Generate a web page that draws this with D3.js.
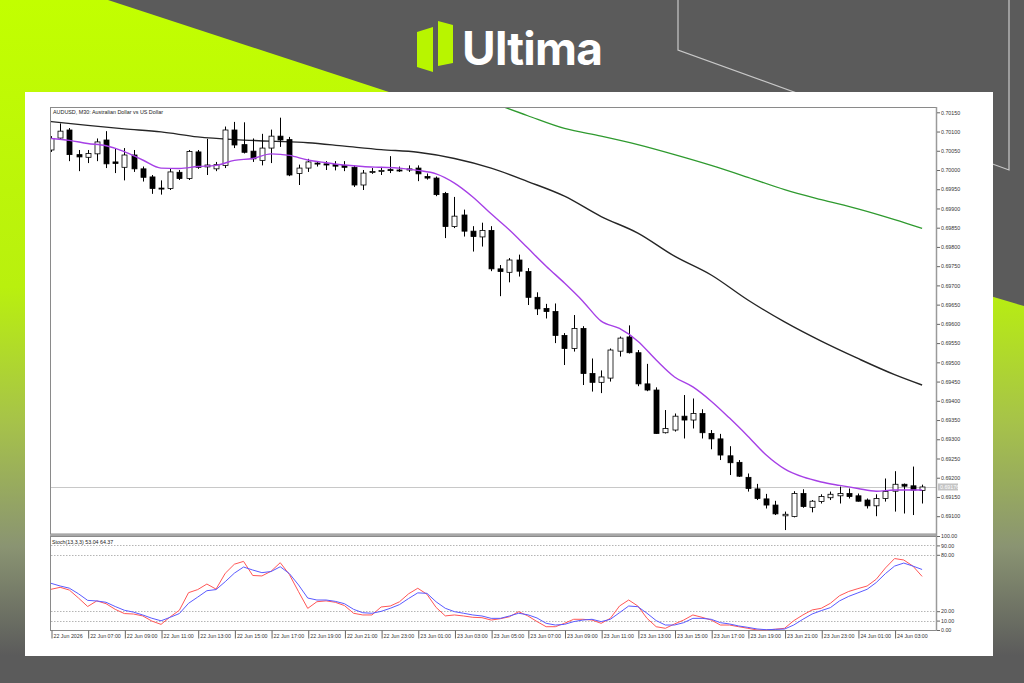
<!DOCTYPE html>
<html>
<head>
<meta charset="utf-8">
<title>AUDUSD M30</title>
<script src="https://cdnjs.cloudflare.com/ajax/libs/d3/7.8.5/d3.min.js"></script>
<style>
  body { margin: 0; background: #5b5b5b; }
  svg { display: block; }
  .axis path.domain { stroke: none; }
  .axis .tick line { stroke: #666; }
  .axis .tick text { fill: #333; font-family: "Liberation Sans", Arial, sans-serif; font-size: 5.3px; }
</style>
</head>
<body>
<svg width="1024" height="683"></svg>
<script>
// AUDUSD M30 bars, 22 Jun 05:00 -> 24 Jun 04:30
var open  = [0.70052,0.70083,0.70104,0.70040,0.70033,0.70042,0.70078,0.70021,0.70007,0.70039,
             0.70003,0.69982,0.69953,0.69952,0.69994,0.69978,0.70047,0.70008,0.70003,0.70012,
             0.70104,0.70066,0.70049,0.70025,0.70057,0.70088,0.70079,0.69991,0.70005,0.70018,
             0.70016,0.70014,0.70012,0.70007,0.69961,0.69994,0.69997,0.70001,0.70000,0.70000,
             0.70005,0.69983,0.69979,0.69939,0.69853,0.69883,0.69841,0.69826,0.69843,0.69743,
             0.69734,0.69766,0.69736,0.69669,0.69640,0.69632,0.69570,0.69536,0.69588,0.69471,
             0.69448,0.69459,0.69529,0.69566,0.69525,0.69444,0.69428,0.69317,0.69324,0.69360,
             0.69350,0.69367,0.69315,0.69301,0.69257,0.69240,0.69201,0.69171,0.69145,0.69129,
             0.69101,0.69099,0.69159,0.69123,0.69138,0.69148,0.69153,0.69159,0.69153,0.69142,
             0.69127,0.69146,0.69165,0.69183,0.69179,0.69167];
var high  = [0.70088,0.70121,0.70109,0.70052,0.70052,0.70082,0.70101,0.70057,0.70057,0.70052,
             0.70009,0.69987,0.69973,0.70004,0.70000,0.70052,0.70052,0.70081,0.70021,0.70113,
             0.70125,0.70124,0.70082,0.70094,0.70105,0.70136,0.70086,0.70014,0.70029,0.70023,
             0.70023,0.70023,0.70023,0.70012,0.70000,0.70005,0.70008,0.70036,0.70009,0.70012,
             0.70012,0.69991,0.69983,0.69943,0.69930,0.69897,0.69854,0.69863,0.69854,0.69753,
             0.69771,0.69780,0.69745,0.69682,0.69652,0.69653,0.69576,0.69623,0.69594,0.69510,
             0.69479,0.69536,0.69567,0.69596,0.69532,0.69496,0.69435,0.69376,0.69367,0.69415,
             0.69406,0.69378,0.69324,0.69314,0.69282,0.69246,0.69211,0.69184,0.69158,0.69140,
             0.69112,0.69165,0.69170,0.69142,0.69157,0.69164,0.69177,0.69172,0.69159,0.69146,
             0.69157,0.69198,0.69217,0.69185,0.69229,0.69182];
var low   = [0.70047,0.70081,0.70023,0.69997,0.70018,0.70023,0.70005,0.69992,0.69973,0.69995,
             0.69970,0.69938,0.69936,0.69948,0.69974,0.69974,0.70003,0.69987,0.69997,0.70005,
             0.70057,0.70043,0.70021,0.70012,0.70018,0.70060,0.69984,0.69961,0.69995,0.70009,
             0.70000,0.69999,0.69997,0.69956,0.69948,0.69990,0.69987,0.69992,0.69995,0.69995,
             0.69971,0.69975,0.69932,0.69823,0.69849,0.69827,0.69788,0.69801,0.69737,0.69672,
             0.69708,0.69723,0.69649,0.69623,0.69614,0.69550,0.69493,0.69528,0.69441,0.69424,
             0.69420,0.69450,0.69515,0.69523,0.69438,0.69425,0.69314,0.69315,0.69320,0.69302,
             0.69328,0.69302,0.69274,0.69246,0.69207,0.69202,0.69164,0.69142,0.69120,0.69103,
             0.69064,0.69097,0.69122,0.69110,0.69133,0.69142,0.69133,0.69146,0.69138,0.69120,
             0.69100,0.69138,0.69112,0.69107,0.69103,0.69133];
var close = [0.70082,0.70101,0.70040,0.70034,0.70043,0.70073,0.70016,0.70017,0.70039,0.70003,
             0.69981,0.69952,0.69951,0.69995,0.69978,0.70048,0.70007,0.70013,0.70014,0.70104,
             0.70065,0.70046,0.70029,0.70057,0.70088,0.70078,0.69987,0.70005,0.70021,0.70016,
             0.70013,0.70010,0.70007,0.69961,0.69992,0.69996,0.69999,0.69999,0.69999,0.70003,
             0.69990,0.69979,0.69936,0.69853,0.69880,0.69841,0.69827,0.69843,0.69743,0.69736,
             0.69766,0.69737,0.69669,0.69639,0.69632,0.69570,0.69536,0.69588,0.69471,0.69448,
             0.69462,0.69532,0.69563,0.69525,0.69444,0.69428,0.69315,0.69328,0.69360,0.69350,
             0.69367,0.69317,0.69301,0.69259,0.69239,0.69204,0.69172,0.69146,0.69129,0.69106,
             0.69105,0.69159,0.69125,0.69139,0.69151,0.69157,0.69159,0.69151,0.69139,0.69127,
             0.69146,0.69164,0.69183,0.69178,0.69168,0.69176];

// moving averages (bar index, price)
var maFastBars = [0,2,4,6,8,10,12,14,16,18,20,22,24,26,28,30,32,34,36,38,40,42,44,46,48,
                  50,52,54,56,58,60,62,64,66,68,70,72,74,76,78,80,82,84,86,88,90,92,94,95];
var maFast = [0.70082,0.70077,0.70069,0.70063,0.70048,0.70026,0.70005,0.70004,0.70009,0.70012,
              0.70025,0.70030,0.70042,0.70038,0.70026,0.70019,0.70013,0.70009,0.70007,0.70005,
              0.69999,0.69990,0.69966,0.69930,0.69886,0.69844,0.69797,0.69750,0.69706,0.69659,
              0.69607,0.69588,0.69555,0.69506,0.69462,0.69436,0.69399,0.69355,0.69308,0.69259,
              0.69223,0.69202,0.69189,0.69180,0.69172,0.69165,0.69168,0.69168,0.69168];
var maSlowBars = [0,4,8,12,16,20,24,28,32,36,40,44,48,52,56,60,64,68,72,76,80,84,88,92,95];
var maSlow = [0.70126,0.70116,0.70107,0.70099,0.70086,0.70079,0.70075,0.70071,0.70062,0.70053,
              0.70046,0.70030,0.70005,0.69970,0.69932,0.69879,0.69836,0.69776,0.69727,0.69662,
              0.69605,0.69555,0.69510,0.69468,0.69441];
var maLongBars = [48,52,56,60,64,68,72,76,80,84,88,92,95];
var maLong = [0.70176,0.70141,0.70108,0.70088,0.70066,0.70040,0.70012,0.69981,0.69949,0.69923,
              0.69899,0.69871,0.69848];

// stochastic (13,3,3)
var stochMain = [43.3,45.4,42.5,34,25,31,28,22,17.5,17,
                 15,9.5,6,14,21,39.7,43,48.9,43.5,60.3,
                 70,73,58,57.5,62.5,71.6,59,40.7,23,30.1,
                 31,29.5,26,17.8,16,16,24.5,25.5,30,38.5,
                 44.4,38,24,15,16,14.9,13.5,13.1,10.6,12,
                 14.1,19.5,15,9,3.5,3.5,7.1,11.4,11.4,10.6,
                 7.1,12.4,25.5,31.9,25.5,12.4,3.5,1.8,6.4,10.6,
                 16,13.5,10.6,5.3,5.3,3.5,1.8,0,0,0.8,
                 1.8,9.9,16,21.3,23.1,28.4,36.5,41,44,46.8,
                 54,66,76,74.5,68,57];
var stochSignal = [49.7,46.8,44.5,38.5,31.5,30.9,29.5,25,21,19,
                   16,12.5,9.8,13.5,17.5,28.4,35,41.8,43,51.4,
                   60.5,67,63.8,61,62.2,67.3,60,47.9,34,31.9,
                   31.9,30.5,28,22,18.4,17.8,19.8,23.1,27,33.5,
                   39.5,39,30,23.1,19.5,17.8,16,14.9,12.4,12.4,
                   14.9,17.8,16.2,12.8,7.1,5.3,6,8.9,10.6,11.4,
                   8.9,11.4,18.4,25.5,24.8,17.8,10,5.3,5.3,7.8,
                   12.4,12.4,11.4,7.8,6.4,4.3,2.8,1.1,0.3,0.7,
                   1,5.3,11.4,17,20.6,23.8,31,35.8,39.5,43.3,
                   50.5,60,68,71.2,68,64.37];

var priceTicks = [0.69100,0.69150,0.69200,0.69250,0.69300,0.69350,0.69400,0.69450,0.69500,0.69550,
                  0.69600,0.69650,0.69700,0.69750,0.69800,0.69850,0.69900,0.69950,0.70000,0.70050,
                  0.70100,0.70150];
var stochTicks = [0,10,20,80,90,100];
var stochLevels = [10,20,80,90];
var xTickBars = [0,4,8,12,16,20,24,28,32,36,40,44,48,52,56,60,64,68,72,76,80,84,88,92];
var xTickLabels = ["22 Jun 2026","22 Jun 07:00","22 Jun 09:00","22 Jun 11:00","22 Jun 13:00",
                   "22 Jun 15:00","22 Jun 17:00","22 Jun 19:00","22 Jun 21:00","22 Jun 23:00",
                   "23 Jun 01:00","23 Jun 03:00","23 Jun 05:00","23 Jun 07:00","23 Jun 09:00",
                   "23 Jun 11:00","23 Jun 13:00","23 Jun 15:00","23 Jun 17:00","23 Jun 19:00",
                   "23 Jun 21:00","23 Jun 23:00","24 Jun 01:00","24 Jun 03:00"];

var svg = d3.select("svg");
var font = "'Liberation Sans', Arial, sans-serif";

// ---- background ----
var defs = svg.append("defs");
var grad = defs.append("linearGradient").attr("id", "lime")
  .attr("gradientUnits", "userSpaceOnUse")
  .attr("x1", 0).attr("y1", 0).attr("x2", 0).attr("y2", 683);
[[0, "#c2ff00"], [0.42, "#b9f00e"], [0.62, "#a6c24a"], [0.8, "#8a9472"], [0.96, "#5b5b5b"], [1, "#5b5b5b"]]
  .forEach(s => grad.append("stop").attr("offset", s[0]).attr("stop-color", s[1]));

svg.append("rect").attr("width", 1024).attr("height", 683).attr("fill", "#5b5b5b");
svg.append("polygon").attr("points", "0,0 108,0 392,93 392,683 0,683").attr("fill", "url(#lime)");
svg.append("polygon").attr("points", "700,210 1024,306 1024,683 700,683").attr("fill", "url(#lime)");
svg.append("polyline").attr("points", "678,0 678,50 1009,170 1009,0")
  .attr("fill", "none").attr("stroke", "#c8c8c8").attr("stroke-width", 1.2);

// logo
svg.append("polygon").attr("points", "417,32 433,27 433,72 417,67").attr("fill", "#b8f500");
svg.append("polygon").attr("points", "438,21 453,25 453,63 438,66").attr("fill", "#b8f500");
svg.append("text").attr("x", 462).attr("y", 65).text("Ultima")
  .attr("fill", "#fff").attr("font-family", "Inter, 'Open Sans', sans-serif")
  .attr("font-weight", 700).attr("font-size", 46).attr("textLength", 141);

// white panel
svg.append("rect").attr("x", 25).attr("y", 92).attr("width", 968).attr("height", 564).attr("fill", "#fff");

// ---- scales ----
var x = d3.scaleLinear().domain([0, 95]).range([51, 922.1]);
var y = d3.scaleLinear().domain([0.69100, 0.70150]).range([516.2, 112.3]);
var sy = d3.scaleLinear().domain([0, 100]).range([630, 536]);

defs.append("clipPath").attr("id", "pclip").append("rect")
  .attr("x", 50.5).attr("y", 107.5).attr("width", 886).attr("height", 426.5);
defs.append("clipPath").attr("id", "sclip").append("rect")
  .attr("x", 50.5).attr("y", 536.5).attr("width", 886).attr("height", 94);

var plot = svg.append("g").attr("clip-path", "url(#pclip)");

// current price line
var last = close[close.length - 1];
plot.append("line").attr("x1", 50).attr("x2", 937)
  .attr("y1", Math.round(y(last)) + 0.5).attr("y2", Math.round(y(last)) + 0.5)
  .attr("stroke", "#c8c8c8").attr("stroke-width", 1);

// moving averages
function maLine(bars, vals, color, w) {
  var pts = bars.map((b, i) => [b, vals[i]]);
  plot.append("path")
    .attr("d", d3.line().x(d => x(d[0])).y(d => y(d[1])).curve(d3.curveMonotoneX)(pts))
    .attr("fill", "none").attr("stroke", color).attr("stroke-width", w);
}
maLine(maLongBars, maLong, "#2f9a2f", 1.3);
maLine(maSlowBars, maSlow, "#262626", 1.4);

// candles
var bars = d3.range(open.length);
var cg = plot.selectAll("g.candle").data(bars).enter().append("g");
cg.append("line")
  .attr("x1", i => Math.round(x(i)) + 0.5).attr("x2", i => Math.round(x(i)) + 0.5)
  .attr("y1", i => y(high[i])).attr("y2", i => y(low[i]))
  .attr("stroke", "#000").attr("stroke-width", 1);
cg.append("rect")
  .attr("x", i => Math.round(x(i)) - 2)
  .attr("width", 5)
  .attr("y", i => y(Math.max(open[i], close[i])))
  .attr("height", i => Math.max(1, Math.abs(y(open[i]) - y(close[i]))))
  .attr("fill", i => close[i] >= open[i] ? "#fff" : "#000")
  .attr("stroke", "#000").attr("stroke-width", 0.8);

maLine(maFastBars, maFast, "#a640e6", 1.4);

// frames
svg.append("rect").attr("x", 50.5).attr("y", 107.5).attr("width", 886).attr("height", 426.5)
  .attr("fill", "none").attr("stroke", "#8a8a8a").attr("stroke-width", 1);
svg.append("rect").attr("x", 50.5).attr("y", 536.5).attr("width", 886).attr("height", 94)
  .attr("fill", "none").attr("stroke", "#8a8a8a").attr("stroke-width", 1);
svg.append("line").attr("x1", 50).attr("x2", 937).attr("y1", 535).attr("y2", 535)
  .attr("stroke", "#a8a8a8").attr("stroke-width", 2);
svg.append("line").attr("x1", 936.5).attr("x2", 936.5).attr("y1", 107).attr("y2", 631)
  .attr("stroke", "#9a9a9a").attr("stroke-width", 1.5);

// price axis
svg.append("g").attr("class", "axis").attr("transform", "translate(937,0)")
  .call(d3.axisRight(y).tickValues(priceTicks).tickSize(3).tickPadding(1).tickFormat(d3.format(".5f")));

// last price tag
svg.append("rect").attr("x", 938).attr("y", y(last) - 3.5).attr("width", 20).attr("height", 7).attr("fill", "#c4c4c4");
svg.append("text").attr("x", 940).attr("y", y(last) + 1.9).text(d3.format(".5f")(last))
  .attr("fill", "#fff").attr("font-family", font).attr("font-size", 5.3);

// chart title
svg.append("text").attr("x", 53).attr("y", 114).text("AUDUSD, M30:  Australian Dollar vs US Dollar")
  .attr("fill", "#222").attr("font-family", font).attr("font-size", 5.4);

// ---- stochastic ----
var sp = svg.append("g").attr("clip-path", "url(#sclip)");
sp.selectAll("line.lvl").data(stochLevels).enter().append("line")
  .attr("x1", 51).attr("x2", 936)
  .attr("y1", d => Math.round(sy(d)) + 0.5).attr("y2", d => Math.round(sy(d)) + 0.5)
  .attr("stroke", "#b5b5b5").attr("stroke-dasharray", "1.5,1.5");
var sline = d3.line().x((d, i) => x(i)).y(d => sy(d));
sp.append("path").attr("d", sline(stochMain)).attr("fill", "none").attr("stroke", "#ff5656").attr("stroke-width", 1);
sp.append("path").attr("d", sline(stochSignal)).attr("fill", "none").attr("stroke", "#5a5aff").attr("stroke-width", 1);

svg.append("g").attr("class", "axis").attr("transform", "translate(937,0)")
  .call(d3.axisRight(sy).tickValues(stochTicks).tickSize(3).tickPadding(1).tickFormat(d3.format(".2f")));

svg.append("text").attr("x", 52).attr("y", 543.5).text("Stoch(13,3,3) 53.04 64.37")
  .attr("fill", "#222").attr("font-family", font).attr("font-size", 5.3);

// time axis
var xa = svg.append("g").attr("class", "axis").attr("transform", "translate(0,630.5)")
  .call(d3.axisBottom(x).tickValues(xTickBars).tickSize(8).tickFormat((d, i) => xTickLabels[i]));
xa.selectAll(".tick line").attr("transform", "translate(0.5,0)");
xa.selectAll(".tick text").attr("text-anchor", "start").attr("x", 2).attr("y", 3.6);
</script>
</body>
</html>
